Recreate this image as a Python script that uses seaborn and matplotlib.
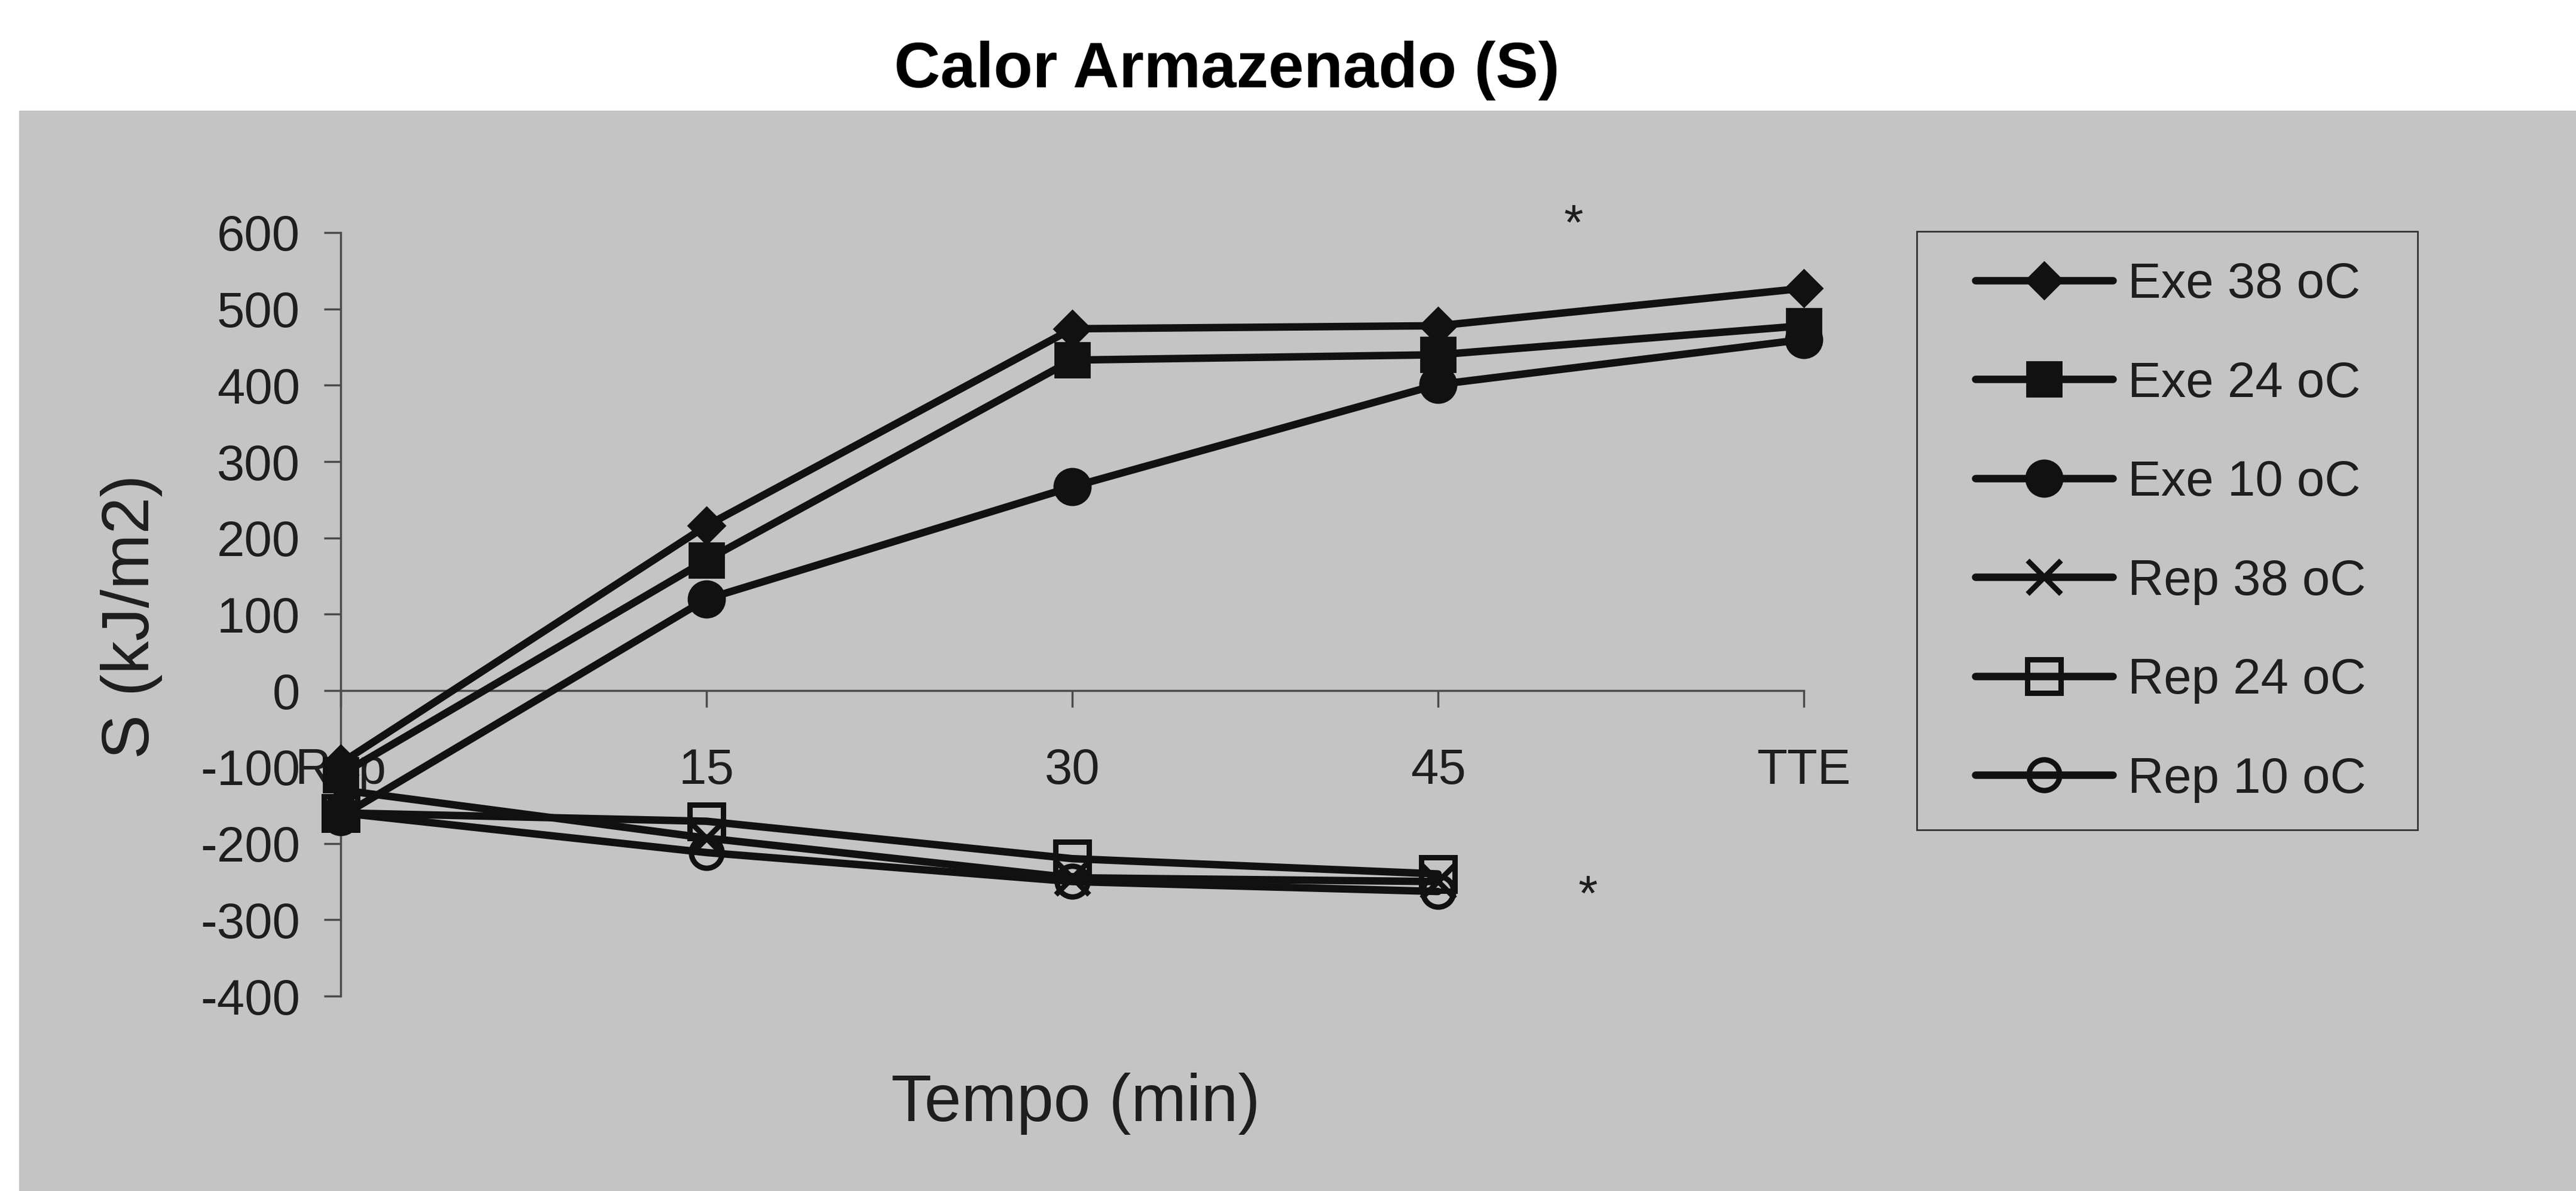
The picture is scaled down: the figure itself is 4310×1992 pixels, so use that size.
import numpy as np
import pandas as pd
import matplotlib
matplotlib.use("Agg")
import matplotlib.pyplot as plt
import seaborn as sns
from matplotlib.patches import Rectangle

# ---------------- data ----------------
categories = ["Rep", "15", "30", "45", "TTE"]
exe_38 = [-95, 216, 474, 478, 527]
exe_24 = [-110, 171, 433, 440, 478]
exe_10 = [-165, 120, 267, 401, 460]
rep_38 = [-130, -193, -245, -250]
rep_24 = [-160, -171, -220, -240]
rep_10 = [-160, -212, -250, -263]
series_names = ["Exe 38 oC", "Exe 24 oC", "Exe 10 oC", "Rep 38 oC", "Rep 24 oC", "Rep 10 oC"]
y_ticks = [-400, -300, -200, -100, 0, 100, 200, 300, 400, 500, 600]
star_x = [3.37, 3.41]
star_y = [591, -288]

# ---------------- style ----------------
sns.set_style("ticks")
plt.rcParams["font.family"] = ["Liberation Sans", "DejaVu Sans"]
plt.rcParams["axes.unicode_minus"] = False

W, H = 4310, 1992
fig = plt.figure(figsize=(W / 100, H / 100), dpi=100)
fig.patch.set_facecolor("white")
# scanned grey background panel
fig.patches.append(Rectangle((32 / W, 0), 1 - 32 / W, 1 - 185 / H, transform=fig.transFigure,
                             facecolor="#c4c4c4", edgecolor="none", zorder=-5))

left, right = 570 / W, 3018 / W
top, bottom = 1 - 389 / H, 1 - 1666 / H
ax = fig.add_axes([left, bottom, right - left, top - bottom])
ax.set_facecolor("none")
ax.set_zorder(2)

pos = np.arange(len(categories))
all_series = [exe_38, exe_24, exe_10, rep_38, rep_24, rep_10]
styles = [
    dict(marker="D", markersize=32, mfc="#111111", mec="#111111", mew=2),
    dict(marker="s", markersize=42, mfc="#111111", mec="#111111", mew=2),
    dict(marker="o", markersize=44, mfc="#111111", mec="#111111", mew=2),
    dict(marker="x", markersize=40, mfc="none", mec="#111111", mew=6.5),
    dict(marker="s", markersize=40, mfc="none", mec="#111111", mew=6.5),
    dict(marker="o", markersize=37, mfc="none", mec="#111111", mew=6.5),
]

handles = []
for name, vals, st in zip(series_names, all_series, styles):
    df = pd.DataFrame({"pos": pos[:len(vals)], "S": vals})
    sns.lineplot(data=df, x="pos", y="S", ax=ax, color="#111111", linewidth=9,
                 legend=False, clip_on=False, zorder=3, **st)
    line = ax.lines[-1]
    line.set_label(name)
    handles.append(line)

ax.set_xlim(0, 4)
ax.set_ylim(-400, 600)
ax.set_xticks(pos)
ax.set_xticklabels(categories)
ax.set_yticks(y_ticks)
ax.set_yticklabels([str(v) for v in y_ticks])
ax.set_xlabel("")
ax.set_ylabel("")

for s in ["top", "right"]:
    ax.spines[s].set_visible(False)
ax.spines["bottom"].set_position(("data", 0))
for s in ["left", "bottom"]:
    ax.spines[s].set_color("#4a4a4a")
    ax.spines[s].set_linewidth(2.5)
    ax.spines[s].set_zorder(1)

ax.tick_params(axis="both", direction="out", length=20, width=2.5, color="#4a4a4a",
               labelsize=60, labelcolor="#1e1e1e")
ax.tick_params(axis="y", pad=29)
ax.tick_params(axis="x", pad=48)

# asterisks
for sx, sy in zip(star_x, star_y):
    ax.text(sx, sy, "*", fontsize=60, ha="center", va="baseline", color="#1e1e1e", clip_on=False)

# titles / labels
fig.text(2053 / W, 1 - 146 / H, "Calor Armazenado (S)", fontsize=77, fontweight="bold",
         ha="center", va="baseline", color="#000000")
fig.text(1800 / W, 1 - 1875 / H, "Tempo (min)", fontsize=80, ha="center", va="baseline",
         color="#1e1e1e")
fig.text(220 / W, 1 - 1031 / H, "S (kJ/m2)", fontsize=80, rotation=90, ha="center",
         va="center", color="#1e1e1e")

# legend with separate frame
fig.patches.append(Rectangle((3207 / W, 1 - 1388 / H), (4045 - 3207) / W, (1388 - 387) / H,
                             transform=fig.transFigure, facecolor="none", edgecolor="#333333",
                             linewidth=2, zorder=2))
leg = fig.legend(handles=handles, labels=series_names, loc="upper left",
                 bbox_to_anchor=(3305 / W, 1 - 437 / H), bbox_transform=fig.transFigure,
                 frameon=False, fontsize=60, handlelength=2.76, handletextpad=0.3,
                 labelspacing=1.05, borderpad=0, borderaxespad=0)
for t in leg.get_texts():
    t.set_color("#1e1e1e")

fig.savefig("out.png", dpi=100, facecolor=fig.get_facecolor())
